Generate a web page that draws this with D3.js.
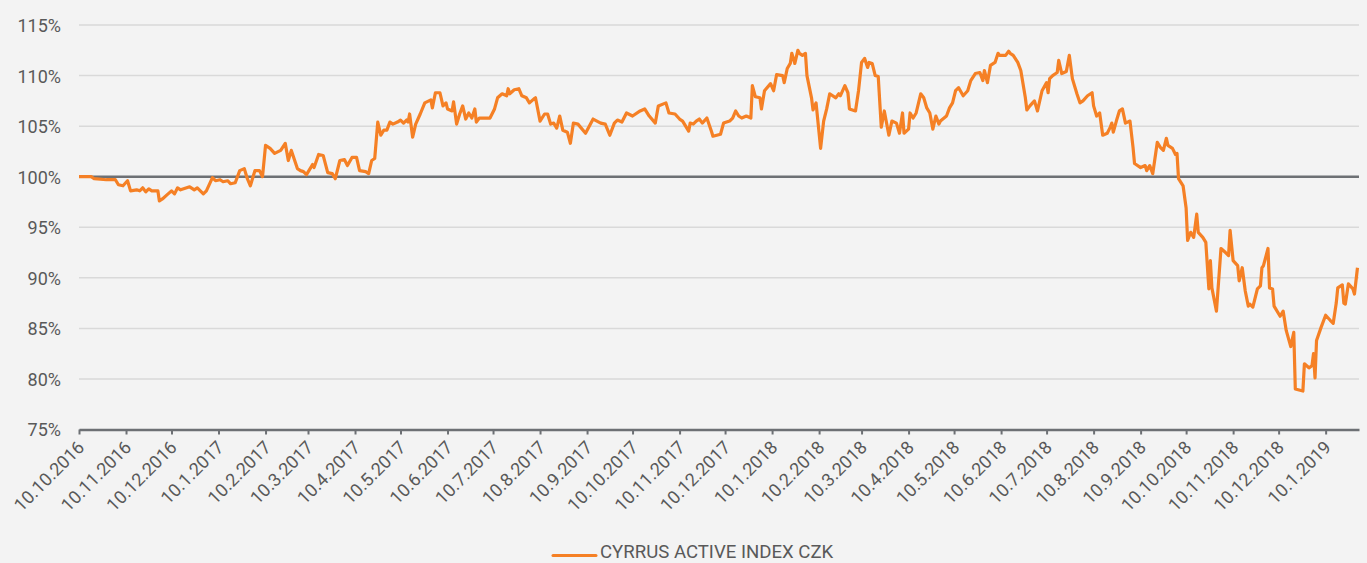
<!DOCTYPE html>
<html>
<head>
<meta charset="utf-8">
<script src="https://cdn.jsdelivr.net/npm/d3@7"></script>
<style>
  html, body { margin: 0; padding: 0; background: #f3f3f3; }
  svg { display: block; font-family: Roboto, "Noto Sans", sans-serif; }
</style>
</head>
<body>
<svg id="chart" width="1367" height="563"></svg>
<script>
const seriesName = "CYRRUS ACTIVE INDEX CZK";
const dates = [
"2016-10-10","2016-10-18","2016-10-20","2016-10-28","2016-11-03","2016-11-05","2016-11-08","2016-11-11","2016-11-13","2016-11-17",
"2016-11-19","2016-11-21","2016-11-23","2016-11-25","2016-11-27","2016-12-01","2016-12-02","2016-12-04","2016-12-07","2016-12-10",
"2016-12-12","2016-12-14","2016-12-16","2016-12-20","2016-12-22","2016-12-25","2016-12-27","2016-12-31","2017-01-02","2017-01-06",
"2017-01-08","2017-01-11","2017-01-13","2017-01-16","2017-01-18","2017-01-21","2017-01-24","2017-01-27","2017-01-29","2017-01-31",
"2017-02-03","2017-02-06","2017-02-08","2017-02-10","2017-02-13","2017-02-16","2017-02-20","2017-02-23","2017-02-25","2017-02-27",
"2017-03-03","2017-03-05","2017-03-07","2017-03-09","2017-03-13","2017-03-14","2017-03-17","2017-03-20","2017-03-23","2017-03-26",
"2017-03-28","2017-03-31","2017-04-03","2017-04-05","2017-04-08","2017-04-11","2017-04-13","2017-04-17","2017-04-19","2017-04-21",
"2017-04-23","2017-04-25","2017-04-27","2017-04-29","2017-05-01","2017-05-03","2017-05-05","2017-05-08","2017-05-10","2017-05-12",
"2017-05-14","2017-05-15","2017-05-16","2017-05-18","2017-05-20","2017-05-23","2017-05-26","2017-05-30","2017-05-31","2017-06-02",
"2017-06-05","2017-06-07","2017-06-09","2017-06-10","2017-06-13","2017-06-14","2017-06-16","2017-06-18","2017-06-20","2017-06-22",
"2017-06-24","2017-06-26","2017-06-28","2017-06-29","2017-07-01","2017-07-05","2017-07-08","2017-07-11","2017-07-13","2017-07-16",
"2017-07-19","2017-07-20","2017-07-21","2017-07-24","2017-07-27","2017-07-29","2017-08-01","2017-08-03","2017-08-06","2017-08-07",
"2017-08-10","2017-08-13","2017-08-15","2017-08-17","2017-08-19","2017-08-21","2017-08-23","2017-08-25","2017-08-28","2017-08-30",
"2017-09-01","2017-09-04","2017-09-09","2017-09-14","2017-09-19","2017-09-22","2017-09-25","2017-09-28","2017-09-30","2017-10-03",
"2017-10-06","2017-10-10","2017-10-15","2017-10-18","2017-10-21","2017-10-25","2017-10-27","2017-11-01","2017-11-03","2017-11-07",
"2017-11-10","2017-11-12","2017-11-16","2017-11-17","2017-11-19","2017-11-21","2017-11-23","2017-11-25","2017-11-28","2017-12-01",
"2017-12-02","2017-12-07","2017-12-09","2017-12-13","2017-12-15","2017-12-17","2017-12-19","2017-12-21","2017-12-24","2017-12-27",
"2017-12-28","2017-12-30","2018-01-02","2018-01-03","2018-01-05","2018-01-09","2018-01-11","2018-01-13","2018-01-17","2018-01-18",
"2018-01-20","2018-01-22","2018-01-23","2018-01-25","2018-01-27","2018-01-28","2018-01-30","2018-02-01","2018-02-02","2018-02-05",
"2018-02-06","2018-02-08","2018-02-11","2018-02-13","2018-02-15","2018-02-17","2018-02-21","2018-02-23","2018-02-24","2018-02-27",
"2018-03-01","2018-03-02","2018-03-06","2018-03-08","2018-03-10","2018-03-12","2018-03-14","2018-03-15","2018-03-17","2018-03-19",
"2018-03-21","2018-03-23","2018-03-25","2018-03-28","2018-03-30","2018-04-02","2018-04-04","2018-04-06","2018-04-07","2018-04-10",
"2018-04-11","2018-04-13","2018-04-15","2018-04-18","2018-04-20","2018-04-22","2018-04-24","2018-04-26","2018-04-28","2018-04-30",
"2018-05-01","2018-05-05","2018-05-07","2018-05-09","2018-05-11","2018-05-13","2018-05-16","2018-05-19","2018-05-21","2018-05-24",
"2018-05-27","2018-05-29","2018-05-30","2018-06-01","2018-06-03","2018-06-06","2018-06-08","2018-06-09","2018-06-13","2018-06-15",
"2018-06-16","2018-06-18","2018-06-21","2018-06-23","2018-06-26","2018-06-27","2018-06-29","2018-07-02","2018-07-04","2018-07-07",
"2018-07-10","2018-07-11","2018-07-12","2018-07-14","2018-07-17","2018-07-18","2018-07-20","2018-07-23","2018-07-25","2018-07-27",
"2018-07-30","2018-08-01","2018-08-03","2018-08-06","2018-08-09","2018-08-10","2018-08-12","2018-08-14","2018-08-16","2018-08-19",
"2018-08-21","2018-08-22","2018-08-23","2018-08-25","2018-08-27","2018-08-29","2018-08-31","2018-09-03","2018-09-05","2018-09-06",
"2018-09-10","2018-09-13","2018-09-14","2018-09-16","2018-09-18","2018-09-21","2018-09-23","2018-09-25","2018-09-27","2018-09-28",
"2018-10-01","2018-10-03","2018-10-04","2018-10-05","2018-10-08","2018-10-10","2018-10-11","2018-10-13","2018-10-15","2018-10-17",
"2018-10-18","2018-10-21","2018-10-23","2018-10-25","2018-10-26","2018-10-27","2018-10-30","2018-11-02","2018-11-05","2018-11-07",
"2018-11-08","2018-11-10","2018-11-13","2018-11-14","2018-11-16","2018-11-18","2018-11-20","2018-11-21","2018-11-23","2018-11-26",
"2018-11-28","2018-11-29","2018-11-30","2018-12-03","2018-12-04","2018-12-06","2018-12-07","2018-12-11","2018-12-13","2018-12-15",
"2018-12-18","2018-12-20","2018-12-21","2018-12-26","2018-12-27","2018-12-30","2019-01-01","2019-01-02","2019-01-03","2019-01-04",
"2019-01-07","2019-01-10","2019-01-13","2019-01-15","2019-01-17","2019-01-18","2019-01-21","2019-01-22","2019-01-23","2019-01-25",
"2019-01-28","2019-01-29","2019-01-31"
];
const values = [
100.0,100.0,99.8,99.7,99.7,99.2,99.1,99.6,98.6,98.7,
98.6,98.9,98.5,98.8,98.6,98.6,97.6,97.8,98.2,98.6,
98.3,98.9,98.7,98.9,99.0,98.7,98.9,98.3,98.6,99.9,
99.6,99.7,99.5,99.6,99.3,99.4,100.6,100.8,99.8,99.1,
100.6,100.6,100.0,103.1,102.8,102.3,102.6,103.3,101.6,102.6,
100.8,100.6,100.5,100.2,101.2,100.9,102.2,102.1,100.4,100.3,
99.8,101.6,101.7,101.1,101.9,101.9,100.6,100.5,100.3,101.6,
101.8,105.4,104.1,104.6,104.6,105.4,105.2,105.4,105.6,105.3,
105.6,105.4,106.2,103.9,105.2,106.2,107.3,107.6,106.8,108.3,
108.3,107.0,107.3,106.7,106.5,107.4,105.2,106.2,107.0,105.7,
106.3,105.8,106.7,105.4,105.8,105.8,105.8,106.7,107.8,108.2,
108.0,108.7,108.2,108.6,108.7,108.0,107.8,107.3,107.7,107.8,
105.5,106.2,106.2,105.2,105.3,104.8,106.0,104.6,104.4,103.3,
105.3,105.2,104.3,105.7,105.3,105.2,104.1,105.3,105.6,105.4,
106.3,106.0,106.5,106.7,106.0,105.3,107.0,107.3,106.3,106.2,
105.7,105.5,104.5,105.3,105.2,105.5,105.7,105.3,105.8,104.5,
104.0,104.2,105.3,105.5,105.8,106.5,106.0,105.8,106.0,105.8,
109.0,107.9,107.8,106.7,108.5,109.2,108.5,110.1,110.0,109.3,
110.7,111.2,112.2,111.2,112.5,112.2,112.0,112.2,110.0,107.8,
106.6,107.3,102.8,105.5,106.7,108.2,107.8,108.2,108.0,109.0,
108.3,106.7,106.5,108.5,111.3,111.7,110.8,111.3,111.2,110.0,
109.9,104.9,106.5,104.1,105.5,105.3,104.3,106.3,104.3,104.7,
106.3,105.8,106.3,108.2,107.8,106.8,106.3,104.7,106.0,105.2,
105.5,106.0,106.8,107.3,108.5,108.8,108.0,108.5,109.5,110.2,
110.3,109.5,110.5,109.3,111.0,111.3,112.2,112.0,112.0,112.4,
112.2,112.0,111.3,110.5,107.8,106.6,107.0,107.5,106.5,108.5,
109.3,108.3,109.7,110.0,110.3,111.5,110.2,110.4,112.0,109.7,
108.2,107.3,107.5,108.0,108.3,107.0,106.0,106.3,104.1,104.3,
104.9,105.3,104.4,105.5,106.5,106.7,105.3,105.5,102.9,101.3,
100.9,101.1,100.6,101.1,100.3,103.4,102.9,102.6,103.8,103.1,
102.8,102.2,102.3,99.8,99.1,96.9,93.7,94.5,94.0,96.3,
94.5,94.0,93.5,88.9,91.7,89.0,86.7,92.9,92.5,92.2,
94.7,91.7,91.2,89.7,91.0,88.7,87.2,87.4,87.1,88.9,
89.2,91.0,91.2,92.9,89.0,88.9,87.2,86.2,86.7,84.8,
83.2,84.6,79.0,78.8,81.5,81.1,81.3,82.5,80.1,83.8,
85.1,86.3,85.8,85.5,87.5,89.0,89.3,87.5,87.4,89.4,
88.9,88.4,91.0
];
const tickLabels = ["10.10.2016","10.11.2016","10.12.2016","10.1.2017","10.2.2017","10.3.2017","10.4.2017",
"10.5.2017","10.6.2017","10.7.2017","10.8.2017","10.9.2017","10.10.2017","10.11.2017","10.12.2017",
"10.1.2018","10.2.2018","10.3.2018","10.4.2018","10.5.2018","10.6.2018","10.7.2018","10.8.2018",
"10.9.2018","10.10.2018","10.11.2018","10.12.2018","10.1.2019"];
const yTicks = [75, 80, 85, 90, 95, 100, 105, 110, 115];
const baseline = 100;
const xDomain = ["2016-10-10", "2019-02-01"];

const parseISO = d3.timeParse("%Y-%m-%d");
const parseTick = d3.timeParse("%d.%m.%Y");
const data = dates.map((d, i) => ({ date: parseISO(d), value: values[i] }));
const tickDates = tickLabels.map(t => parseTick(t));

const svg = d3.select("#chart");
const M = { left: 79, right: 1359, top: 25, bottom: 429.5 };

const x = d3.scaleTime().domain(xDomain.map(parseISO)).range([M.left, M.right]);
const y = d3.scaleLinear().domain([75, 115]).range([M.bottom, M.top]);

svg.append("rect").attr("width", 1367).attr("height", 563).attr("fill", "#f3f3f3");

// gridlines
svg.append("g").selectAll("line").data(yTicks.filter(v => v !== 75 && v !== baseline))
  .join("line")
  .attr("x1", M.left).attr("x2", M.right)
  .attr("y1", d => y(d)).attr("y2", d => y(d))
  .attr("stroke", "#d9d9d9").attr("stroke-width", 1.5);

// y labels
const yAxis = d3.axisLeft(y).tickValues(yTicks).tickSize(0).tickPadding(0).tickFormat(d => d + "%");
const gy = svg.append("g").attr("transform", "translate(61,0)").call(yAxis);
gy.select(".domain").remove();
gy.selectAll("text").attr("font-size", 18).attr("fill", "#595959")
  .attr("font-family", "Roboto, sans-serif").attr("dy", "0.36em");

// x axis
const xAxis = d3.axisBottom(x).tickValues(tickDates).tickSize(5).tickSizeOuter(0)
  .tickFormat((d, i) => tickLabels[i]);
const gx = svg.append("g").attr("transform", `translate(0,${M.bottom})`).call(xAxis);
gx.select(".domain").attr("stroke", "#6d7074").attr("stroke-width", 2.5);
gx.selectAll(".tick line").attr("stroke", "#6d7074").attr("stroke-width", 2);
gx.selectAll(".tick text")
  .attr("font-size", 18).attr("fill", "#595959").attr("font-family", "Roboto, sans-serif")
  .attr("text-anchor", "end")
  .attr("y", 0).attr("dy", 0)
  .attr("transform", "translate(6,19) rotate(-45)");

// baseline 100%
svg.append("line")
  .attr("x1", M.left).attr("x2", M.right)
  .attr("y1", y(baseline)).attr("y2", y(baseline))
  .attr("stroke", "#6d7074").attr("stroke-width", 2.5);

// series line
const line = d3.line().x(d => x(d.date)).y(d => y(d.value));
svg.append("path").datum(data)
  .attr("d", line)
  .attr("fill", "none")
  .attr("stroke", "#f58025")
  .attr("stroke-width", 3.2)
  .attr("stroke-linejoin", "round");

// legend
const lg = svg.append("g").attr("transform", "translate(553,555.5)");
lg.append("line").attr("x1", 0).attr("x2", 43).attr("y1", 0).attr("y2", 0)
  .attr("stroke", "#f58025").attr("stroke-width", 3).attr("stroke-linecap", "round");
lg.append("text").attr("x", 47).attr("y", 2.5)
  .attr("font-size", 18.6).attr("fill", "#595959").attr("font-family", "Roboto, sans-serif")
  .text(seriesName);
</script>
</body>
</html>
